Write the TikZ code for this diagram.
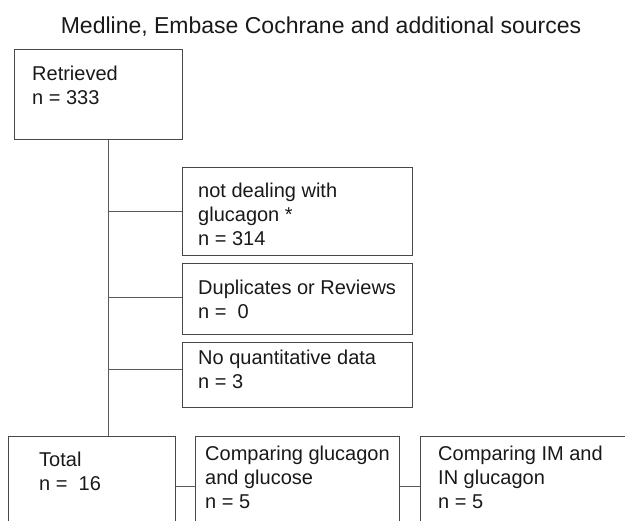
\documentclass[tikz,border=0pt]{standalone}
\usepackage{fontspec}
\setmainfont{Liberation Sans}
\begin{document}
\begin{tikzpicture}[x=1pt,y=-1pt,
  boxline/.style={draw=black!72, line width=1.1pt, rectangle, inner sep=0pt, anchor=north west},
  conn/.style={draw=black!65, line width=1pt},
  txt/.style={anchor=base west, inner sep=0pt, align=left, text=black!90,
    font=\fontsize{20}{24}\selectfont},
  ttl/.style={anchor=base, inner sep=0pt, text=black!90,
    font=\fontsize{23}{27}\selectfont}]
\useasboundingbox (0,0) rectangle (625,521);
\clip (0,0) rectangle (625,521);
% title
\node[ttl] (title) at (321,34) {Medline, Embase Cochrane and additional sources};
% boxes
\node[boxline, minimum width=168pt, minimum height=90pt] (ret) at (14,49) {};
\node[boxline, minimum width=230pt, minimum height=88pt] (b1) at (182,167) {};
\node[boxline, minimum width=230pt, minimum height=71pt] (b2) at (182,263) {};
\node[boxline, minimum width=230pt, minimum height=65pt] (b3) at (182,342) {};
\node[boxline, minimum width=167pt, minimum height=110pt] (tot) at (8,436) {};
\node[boxline, minimum width=204pt, minimum height=110pt] (c1) at (195,436) {};
\node[boxline, minimum width=230pt, minimum height=110pt] (c2) at (420,436) {};
% texts (anchored at the baseline of the last line)
\node[txt] (tret) at (32,105) {Retrieved\\n = 333};
\node[txt] (tb1) at (198,246) {not dealing with\\glucagon *\\n = 314};
\node[txt] (tb2) at (198,319) {Duplicates or Reviews\\n =\ \ 0};
\node[txt] (tb3) at (198,389) {No quantitative data\\n = 3};
\node[txt] (ttot) at (39,491) {Total\\n =\ \ 16};
\node[txt] (tc1) at (205,509) {Comparing glucagon\\and glucose\\n = 5};
\node[txt] (tc2) at (438,509) {Comparing IM and\\IN glucagon\\n = 5};
% connectors
\coordinate (j1) at (108,212);
\coordinate (j2) at (108,298);
\coordinate (j3) at (108,370);
\draw[conn] (ret.south -| j1) -- (tot.north -| j1);
\draw[conn] (j1) -- (j1 -| b1.west);
\draw[conn] (j2) -- (j2 -| b2.west);
\draw[conn] (j3) -- (j3 -| b3.west);
\coordinate (j4) at (175,487);
\draw[conn] (tot.east |- j4) -- (c1.west |- j4);
\draw[conn] (c1.east |- j4) -- (c2.west |- j4);
\end{tikzpicture}
\end{document}
